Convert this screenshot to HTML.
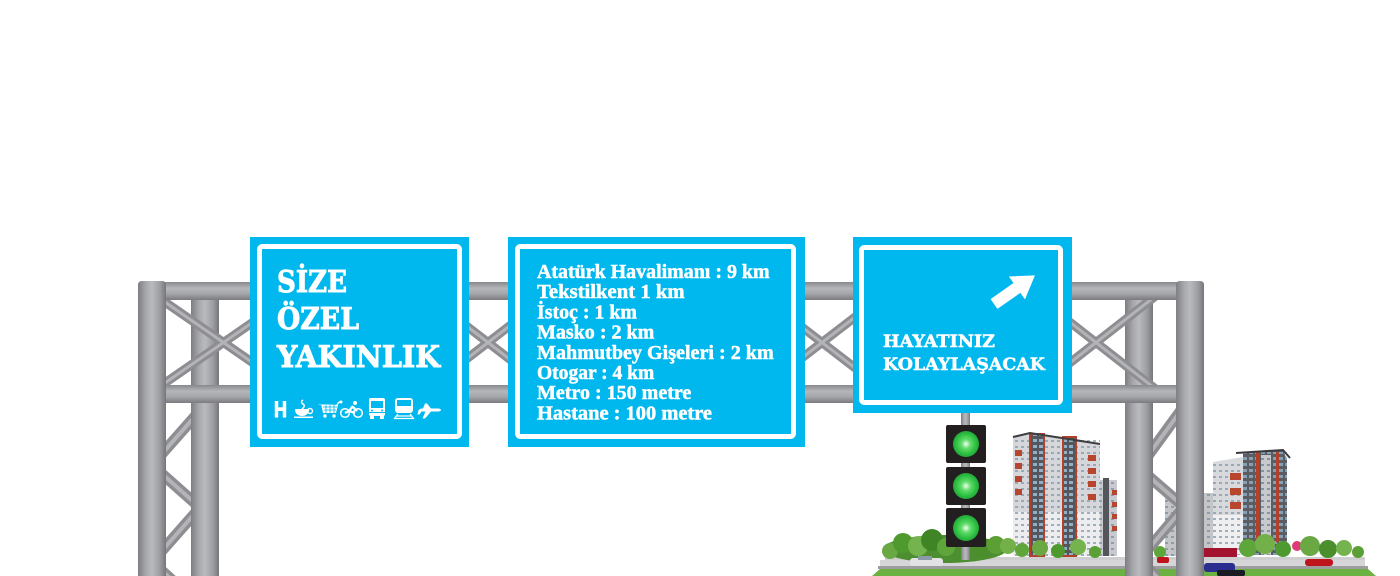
<!DOCTYPE html>
<html><head><meta charset="utf-8"><style>
html,body{margin:0;padding:0;background:#fff;width:1400px;height:576px;overflow:hidden;}
svg{display:block;}
</style></head><body>
<svg width="1400" height="576" viewBox="0 0 1400 576" xmlns="http://www.w3.org/2000/svg">
<defs>
<linearGradient id="pv" x1="0" y1="0" x2="1" y2="0">
<stop offset="0" stop-color="#7e7e82"/><stop offset="0.3" stop-color="#a9aaae"/><stop offset="0.5" stop-color="#b9babe"/><stop offset="0.78" stop-color="#9d9ea2"/><stop offset="1" stop-color="#77777b"/>
</linearGradient>
<linearGradient id="ph" x1="0" y1="0" x2="0" y2="1">
<stop offset="0" stop-color="#89898d"/><stop offset="0.35" stop-color="#b5b6ba"/><stop offset="0.65" stop-color="#a5a6aa"/><stop offset="1" stop-color="#7b7b7f"/>
</linearGradient>
<radialGradient id="gl" cx="0.5" cy="0.5" r="0.5">
<stop offset="0" stop-color="#f2fff2"/><stop offset="0.35" stop-color="#62dc6c"/><stop offset="0.75" stop-color="#2fc143"/><stop offset="1" stop-color="#22a838"/>
</radialGradient>
<pattern id="win" width="6" height="6" patternUnits="userSpaceOnUse"><rect x="1" y="2" width="3" height="2" fill="#7f94a4"/></pattern>
<pattern id="win2" width="6" height="6" patternUnits="userSpaceOnUse"><rect x="1" y="1" width="4" height="3" fill="#8fb0c8"/></pattern>
<clipPath id="frame"><rect x="0" y="0" width="1400" height="576"/></clipPath>
</defs>
<rect width="1400" height="576" fill="#fff"/>
<g clip-path="url(#frame)">

<!-- LANDSCAPE -->
<g>
<rect x="1165" y="493" width="50" height="63" fill="#c4c5c9"/>
<rect x="1165" y="493" width="50" height="63" fill="url(#win)" opacity="0.8"/>
<rect x="1186" y="490" width="10" height="66" fill="#56575d"/>
<rect x="1198" y="500" width="4" height="50" fill="#b3402a"/>
<polygon points="1013,437 1030,433 1047,435 1063,437 1077,439 1100,444 1100,556 1013,556" fill="#d6d7db"/>
<rect x="1013" y="512" width="87" height="44" fill="#ededf0"/>
<rect x="1013" y="440" width="87" height="116" fill="url(#win)" opacity="0.7"/>
<rect x="1030" y="434" width="14" height="122" fill="#55565c"/>
<rect x="1030" y="434" width="14" height="122" fill="url(#win2)"/>
<rect x="1030" y="434" width="14" height="122" fill="none" stroke="#b3402a" stroke-width="2"/>
<rect x="1063" y="437" width="13" height="119" fill="#55565c"/>
<rect x="1063" y="437" width="13" height="119" fill="url(#win2)"/>
<rect x="1063" y="437" width="13" height="119" fill="none" stroke="#b3402a" stroke-width="2"/>
<g fill="#b8452d">
<rect x="1015" y="450" width="7" height="6"/><rect x="1015" y="463" width="7" height="6"/><rect x="1015" y="476" width="7" height="6"/><rect x="1015" y="489" width="7" height="6"/>
<rect x="1088" y="455" width="8" height="6"/><rect x="1088" y="468" width="8" height="6"/><rect x="1088" y="481" width="8" height="6"/><rect x="1088" y="494" width="8" height="6"/>
</g>
<polyline points="1013,437 1030,433 1100,444" fill="none" stroke="#3d3d40" stroke-width="2"/>
<rect x="1100" y="480" width="17" height="76" fill="#c9cacf"/>
<rect x="1100" y="480" width="17" height="76" fill="url(#win)" opacity="0.8"/>
<rect x="1103" y="478" width="6" height="78" fill="#55565c"/>
<g fill="#b8452d"><rect x="1112" y="490" width="5" height="5"/><rect x="1112" y="502" width="5" height="5"/><rect x="1112" y="514" width="5" height="5"/><rect x="1112" y="526" width="5" height="5"/></g>
<polygon points="1213,462 1243,457 1243,555 1213,555" fill="#d8d9dd"/>
<rect x="1213" y="515" width="30" height="40" fill="#efeff1"/>
<rect x="1213" y="462" width="30" height="93" fill="url(#win)" opacity="0.7"/>
<g fill="#b8452d"><rect x="1230" y="473" width="11" height="7"/><rect x="1230" y="488" width="11" height="7"/><rect x="1230" y="502" width="11" height="7"/></g>
<polygon points="1243,452 1283,450 1287,460 1287,555 1243,555" fill="#5c5d63"/>
<rect x="1243" y="452" width="44" height="103" fill="url(#win2)" opacity="0.8"/>
<rect x="1261" y="455" width="10" height="100" fill="#c8c9cd"/>
<rect x="1261" y="455" width="10" height="100" fill="url(#win)"/>
<rect x="1256" y="452" width="3" height="90" fill="#b3402a"/>
<rect x="1276" y="452" width="3" height="90" fill="#b3402a"/>
<polyline points="1236,453 1283,450 1290,458" fill="none" stroke="#3a3a3e" stroke-width="2"/>
<rect x="1204" y="548" width="33" height="12" fill="#a3122f"/>
<rect x="885" y="557" width="480" height="3" fill="#cfcfd1"/>
<rect x="880" y="560" width="485" height="7" fill="#d6d6d8"/>
<rect x="878" y="566" width="490" height="3" fill="#9d9d9f"/>
<polygon points="872,576 880,569 1368,569 1376,576" fill="#6cb243"/>
<ellipse cx="945" cy="549" rx="62" ry="14" fill="#4d8f30"/>
<g>
<circle cx="890" cy="551" r="8" fill="#6aa844"/>
<circle cx="903" cy="543" r="10" fill="#4e9a2e"/>
<circle cx="918" cy="546" r="10" fill="#75b34e"/>
<circle cx="932" cy="540" r="11" fill="#3f8526"/>
<circle cx="946" cy="547" r="9" fill="#5fa63a"/>
<circle cx="982" cy="550" r="8" fill="#4a8f2c"/>
<circle cx="996" cy="545" r="9" fill="#5c9f35"/>
<circle cx="1008" cy="546" r="8" fill="#74b04a"/>
<circle cx="1022" cy="550" r="7" fill="#5fa63a"/>
<circle cx="1040" cy="548" r="8" fill="#6aa844"/>
<circle cx="1058" cy="551" r="7" fill="#4e9a2e"/>
<circle cx="1078" cy="547" r="8" fill="#75b34e"/>
<circle cx="1095" cy="552" r="6" fill="#5c9f35"/>
<circle cx="1160" cy="552" r="6" fill="#5fa63a"/>
<circle cx="1248" cy="548" r="9" fill="#5fa63a"/>
<circle cx="1265" cy="544" r="10" fill="#74b04a"/>
<circle cx="1283" cy="549" r="8" fill="#4e9a2e"/>
<circle cx="1297" cy="546" r="5" fill="#e03a7a"/>
<circle cx="1310" cy="546" r="10" fill="#6aa844"/>
<circle cx="1328" cy="549" r="9" fill="#4a8f2c"/>
<circle cx="1344" cy="548" r="8" fill="#75b34e"/>
<circle cx="1358" cy="552" r="6" fill="#5c9f35"/>
</g>
<rect x="910" y="558" width="33" height="8" rx="3" fill="#e2e2e4"/>
<rect x="918" y="556" width="14" height="4" fill="#8a9aa6"/>
<rect x="1157" y="557" width="12" height="6" rx="2" fill="#c0141c"/>
<rect x="1305" y="559" width="28" height="7" rx="3" fill="#c0141c"/>
<rect x="1204" y="563" width="31" height="9" rx="3" fill="#2b2d8f"/>
<rect x="1217" y="570" width="28" height="6" rx="2" fill="#1a1a22"/>
</g>

<!-- LOWER DIAGONALS -->
<g fill="none" stroke-linecap="butt">
<g stroke="#8e8e92" stroke-width="11">
<polyline points="205,405 152,465 205,512"/>
<polyline points="205,502 152,562 172,580"/>
<polyline points="1190,398 1139,468 1190,512"/>
<polyline points="1190,500 1139,560 1157,577"/>
</g>
<g stroke="#b3b4b8" stroke-width="4">
<polyline points="205,405 152,465 205,512"/>
<polyline points="205,502 152,562 172,580"/>
<polyline points="1190,398 1139,468 1190,512"/>
<polyline points="1190,500 1139,560 1157,577"/>
</g>
</g>

<rect x="191" y="295" width="28" height="281" fill="url(#pv)"/>
<rect x="1125" y="295" width="28" height="281" fill="url(#pv)"/>

<g fill="none">
<g stroke="#8e8e92" stroke-width="9">
<line x1="149" y1="291" x2="298" y2="394"/><line x1="149" y1="394" x2="298" y2="291"/>
<line x1="421" y1="291" x2="555" y2="394"/><line x1="421" y1="394" x2="555" y2="291"/>
<line x1="755" y1="291" x2="889" y2="394"/><line x1="755" y1="394" x2="889" y2="291"/>
<line x1="1030" y1="291" x2="1162" y2="394"/><line x1="1030" y1="394" x2="1162" y2="291"/>
</g>
<g stroke="#b3b4b8" stroke-width="3">
<line x1="149" y1="291" x2="298" y2="394"/><line x1="149" y1="394" x2="298" y2="291"/>
<line x1="421" y1="291" x2="555" y2="394"/><line x1="421" y1="394" x2="555" y2="291"/>
<line x1="755" y1="291" x2="889" y2="394"/><line x1="755" y1="394" x2="889" y2="291"/>
<line x1="1030" y1="291" x2="1162" y2="394"/><line x1="1030" y1="394" x2="1162" y2="291"/>
</g>
</g>

<rect x="160" y="282" width="1020" height="18" fill="url(#ph)"/>
<rect x="160" y="385" width="1020" height="18" fill="url(#ph)"/>

<path d="M138,576 V285 q0,-4 4,-4 h20 q4,0 4,4 V576 z" fill="url(#pv)"/>
<path d="M1176,576 V285 q0,-4 4,-4 h20 q4,0 4,4 V576 z" fill="url(#pv)"/>

<rect x="961" y="412" width="9" height="148" fill="url(#pv)"/>
<rect x="946" y="425" width="40" height="38" rx="2" fill="#231f20"/>
<rect x="946" y="467" width="40" height="38" rx="2" fill="#231f20"/>
<rect x="946" y="508" width="40" height="39" rx="2" fill="#231f20"/>
<circle cx="966" cy="444" r="13" fill="url(#gl)"/>
<circle cx="966" cy="486" r="13" fill="url(#gl)"/>
<circle cx="966" cy="528" r="13" fill="url(#gl)"/>

<!-- SIGN 1 -->
<rect x="250" y="237" width="219" height="210" fill="#00b8ee"/>
<rect x="259.5" y="246.5" width="200" height="190" rx="3" fill="none" stroke="#fff" stroke-width="5"/>
<g font-family="'DejaVu Serif', 'Liberation Serif', serif" font-weight="bold" font-size="30" fill="#fff" stroke="#fff" stroke-width="0.9">
<text x="277" y="292" textLength="70" lengthAdjust="spacingAndGlyphs">SİZE</text>
<text x="277" y="329" textLength="82" lengthAdjust="spacingAndGlyphs">ÖZEL</text>
<text x="277" y="367" textLength="163" lengthAdjust="spacingAndGlyphs">YAKINLIK</text>
</g>
<g fill="#fff">
<text x="274" y="417" font-family="'Liberation Sans', sans-serif" font-weight="bold" font-size="22" stroke="#fff" stroke-width="1" textLength="13" lengthAdjust="spacingAndGlyphs">H</text>
<path d="M303,400 q-3,2 0,4 q3,2 -1,5" fill="none" stroke="#fff" stroke-width="1.4"/>
<path d="M295,409 h14 v1 a7,6 0 0 1 -14,0 z"/>
<circle cx="310" cy="411" r="2.5" fill="none" stroke="#fff" stroke-width="1.4"/>
<rect x="294" y="416.5" width="19" height="1.5"/>
<path d="M318,404 h3 l2,9 h13 l2,-8 z"/>
<path d="M323,407 h14 M324,410 h12 M326,405 v8 M330,405 v8 M334,405 v8" stroke="#00b8ee" stroke-width="0.8"/>
<path d="M337,405 q2,-4 4,-3" fill="none" stroke="#fff" stroke-width="1.4"/>
<circle cx="341" cy="402" r="1.5"/>
<circle cx="325" cy="416" r="1.7"/><circle cx="334" cy="416" r="1.7"/>
<circle cx="345" cy="413" r="4.3" fill="none" stroke="#fff" stroke-width="1.5"/>
<circle cx="358" cy="413" r="4.3" fill="none" stroke="#fff" stroke-width="1.5"/>
<circle cx="355" cy="403" r="2"/>
<path d="M353,406 l-4,5 l6,2 M349,411 l-4,2 M353,407 l4,4" fill="none" stroke="#fff" stroke-width="2.3"/>
<rect x="369" y="398" width="16" height="18" rx="2"/>
<rect x="371" y="401" width="12" height="7" fill="#00b8ee"/>
<rect x="369" y="412" width="16" height="1" fill="#00b8ee"/>
<rect x="370" y="415" width="4" height="4"/><rect x="380" y="415" width="4" height="4"/>
<circle cx="372" cy="410.5" r="1" fill="#00b8ee"/><circle cx="382" cy="410.5" r="1" fill="#00b8ee"/>
<rect x="395" y="398" width="18" height="15" rx="3"/>
<rect x="397" y="400" width="14" height="6" fill="#00b8ee"/>
<path d="M398,414 l-4,5 M410,414 l4,5 M396,416 h16 M395,418.5 h18" fill="none" stroke="#fff" stroke-width="1.2"/>
<path d="M421,408.5 h2 l2,-5 h2 l4,5 h8 q4,1.5 0,3 h-8 l-6,7 h-2.5 l3,-7 h-4 l-2,3 h-2 l1,-4.5 z"/>
</g>

<!-- SIGN 2 -->
<rect x="508" y="237" width="297" height="210" fill="#00b8ee"/>
<rect x="517.5" y="246.5" width="276" height="190" rx="3" fill="none" stroke="#fff" stroke-width="5"/>
<g font-family="'Liberation Serif', serif" font-weight="bold" font-size="20" fill="#fff" stroke="#fff" stroke-width="0.5">
<text x="537" y="278" textLength="232.6" lengthAdjust="spacingAndGlyphs">Atatürk Havalimanı : 9 km</text>
<text x="537" y="298.2" textLength="147.6" lengthAdjust="spacingAndGlyphs">Tekstilkent 1 km</text>
<text x="537" y="318.4" textLength="100" lengthAdjust="spacingAndGlyphs">İstoç : 1 km</text>
<text x="537" y="338.6" textLength="117.3" lengthAdjust="spacingAndGlyphs">Masko : 2 km</text>
<text x="537" y="358.8" textLength="236.7" lengthAdjust="spacingAndGlyphs">Mahmutbey Gişeleri : 2 km</text>
<text x="537" y="379" textLength="117.3" lengthAdjust="spacingAndGlyphs">Otogar : 4 km</text>
<text x="537" y="399.2" textLength="154.3" lengthAdjust="spacingAndGlyphs">Metro : 150 metre</text>
<text x="537" y="419.4" textLength="175" lengthAdjust="spacingAndGlyphs">Hastane : 100 metre</text>
</g>

<!-- SIGN 3 -->
<rect x="853" y="237" width="219" height="176" fill="#00b8ee"/>
<rect x="861.5" y="247.5" width="199" height="155" rx="3" fill="none" stroke="#fff" stroke-width="5"/>
<polygon points="0,-6 28,-6 28,-14 50,0 28,14 28,6 0,6" fill="#fff" transform="translate(994,304) rotate(-35)"/>
<g font-family="'DejaVu Serif', 'Liberation Serif', serif" font-weight="bold" font-size="17" fill="#fff" stroke="#fff" stroke-width="0.5">
<text x="883" y="347" textLength="112" lengthAdjust="spacingAndGlyphs">HAYATINIZ</text>
<text x="883" y="370" textLength="162" lengthAdjust="spacingAndGlyphs">KOLAYLAŞACAK</text>
</g>
</g>
</svg>
</body></html>
